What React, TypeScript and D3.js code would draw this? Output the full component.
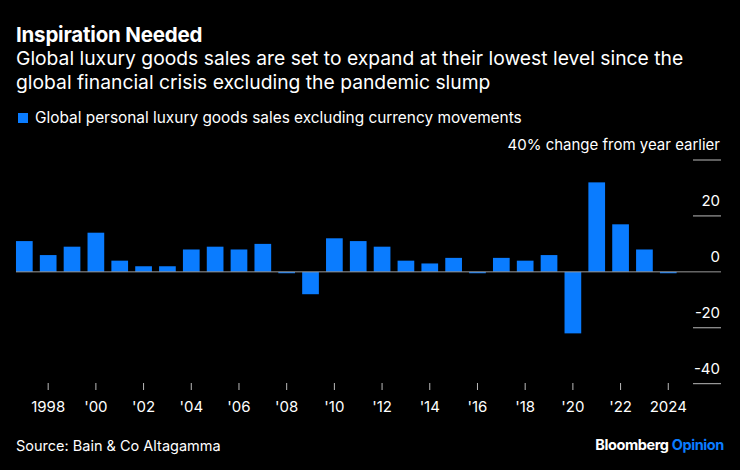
import React from "react";
import * as d3 from "d3";

const years: number[] = [1997,1998,1999,2000,2001,2002,2003,2004,2005,2006,2007,2008,2009,2010,2011,2012,2013,2014,2015,2016,2017,2018,2019,2020,2021,2022,2023,2024];
const values: number[] = [11,6,9,14,4,2,2,8,9,8,10,-0.5,-8,12,11,9,4,3,5,-0.5,5,4,6,-22,32,17,8,-0.5];
const yTicks: number[] = [-40,-20,0,20,40];
const xTickYears: number[] = [1998,2000,2002,2004,2006,2008,2010,2012,2014,2016,2018,2020,2022,2024];

const W = 740, H = 470;
const FONT = "Inter, 'Liberation Sans', Arial, sans-serif";
const BLUE = "#0a7cff";

export default function App() {
  const x = d3.scaleBand<number>().domain(years).range([12.4, 680.2]).paddingInner(0.3).paddingOuter(0.15);
  const y = d3.scaleLinear().domain([-40, 40]).range([383.7, 160]);
  const fmtYear = (yr: number) => (yr === 1998 || yr === 2024 ? String(yr) : "'" + String(yr).slice(2));
  return (
    <svg width={W} height={H} style={{ position: "absolute", left: 0, top: 0, background: "#000" }} fontFamily={FONT}>
      <rect x={0} y={0} width={W} height={H} fill="#000" />
      <text x={16} y={42} fill="#fff" fontSize={20.5} fontWeight="bold" letterSpacing={-0.2}>Inspiration Needed</text>
      <text x={16} y={65} fill="#fff" fontSize={19.3}>Global luxury goods sales are set to expand at their lowest level since the</text>
      <text x={16} y={89} fill="#fff" fontSize={19.3}>global financial crisis excluding the pandemic slump</text>
      <rect x={18} y={113} width={10} height={10} fill={BLUE} />
      <text x={35} y={123} fill="#fff" fontSize={15.4}>Global personal luxury goods sales excluding currency movements</text>

      {yTicks.filter((t) => t !== 0).map((t) => (
        <line key={"yt" + t} x1={693} x2={721} y1={y(t)} y2={y(t)} stroke="#bbb" strokeWidth={1} />
      ))}
      {yTicks.map((t) => (
        <text key={"yl" + t} x={720} y={y(t) - 10} fill="#fff" fontSize={15} textAnchor="end">
          {t === 40 ? "40% change from year earlier" : String(t)}
        </text>
      ))}

      {years.map((yr, i) => {
        const v = values[i];
        const y0 = y(Math.max(0, v));
        const y1 = y(Math.min(0, v));
        return <rect key={yr} x={x(yr)} y={y0} width={x.bandwidth()} height={Math.max(0, y1 - y0)} fill={BLUE} />;
      })}
      <line x1={16} x2={721} y1={y(0)} y2={y(0)} stroke="#999" strokeWidth={1} />

      {xTickYears.map((yr) => {
        const cx = (x(yr) as number) + x.bandwidth() / 2;
        return (
          <g key={"xt" + yr}>
            <line x1={cx} x2={cx} y1={383} y2={390} stroke="#bbb" strokeWidth={1} />
            <text x={cx} y={411.5} fill="#fff" fontSize={15} textAnchor="middle">{fmtYear(yr)}</text>
          </g>
        );
      })}

      <text x={16} y={451} fill="#fff" fontSize={14.5}>Source: Bain &amp; Co Altagamma</text>
      <text x={724} y={450} fontSize={14.5} fontWeight="bold" textAnchor="end" letterSpacing={-0.4}>
        <tspan fill="#fff">Bloomberg </tspan>
        <tspan fill={BLUE}>Opinion</tspan>
      </text>
    </svg>
  );
}
